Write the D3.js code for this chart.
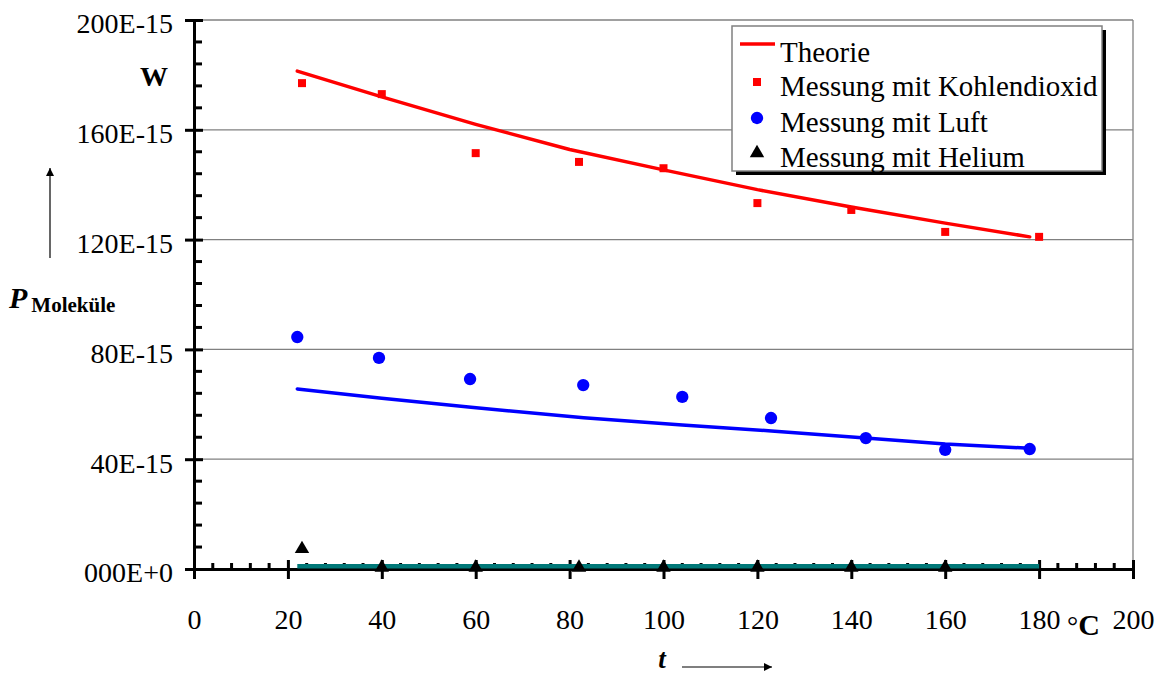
<!DOCTYPE html>
<html>
<head>
<meta charset="utf-8">
<script src="https://cdn.jsdelivr.net/npm/d3@7"></script>
<style>
  body { margin: 0; background: #fff; }
</style>
</head>
<body>
<div id="chart"></div>
<script>
// data (values in 1E-15 W, temperature in °C)
const theoryT = [22, 40, 60, 80, 100, 120, 140, 160, 178];
const theoryCO2 = [181.4, 172, 162, 152.8, 145.4, 138.2, 131.9, 126, 121];
const theoryAirT = [22, 40, 59, 83, 104, 123, 143, 160, 178];
const theoryAir = [65.6, 62.2, 58.9, 55.1, 52.5, 50.3, 47.7, 45.5, 44];
const theoryHeT = [22, 180];
const theoryHe = [1, 1];

const co2T = [23, 40, 60, 82, 100, 120, 140, 160, 180];
const co2P = [177, 173, 151.5, 148.3, 146, 133.3, 130.8, 122.8, 121];
const airT = [22, 39.4, 58.8, 82.9, 104, 122.9, 143.1, 160, 178];
const airP = [84.5, 76.9, 69.2, 67, 62.7, 55, 47.7, 43.4, 43.7];
const heT = [23, 40, 60, 82, 100, 120, 140, 160];
const heP = [7.3, 0.5, 0.5, 0.5, 0.5, 0.5, 0.5, 0.5];

const yTicks = [0, 40, 80, 120, 160, 200];
const yTickLabels = ['000E+0', '40E-15', '80E-15', '120E-15', '160E-15', '200E-15'];
const xTicks = [0, 20, 40, 60, 80, 100, 120, 140, 160, 180, 200];
const legendLabels = ['Theorie', 'Messung mit Kohlendioxid', 'Messung mit Luft', 'Messung mit Helium'];

const width = 1165;
const height = 678;
const serif = '"Liberation Serif"';
const fs = '28px';

const svg = d3.select('#chart').append('svg')
    .attr('width', width)
    .attr('height', height)
    .style('font-family', serif);

const xScale = d3.scaleLinear().domain([0, 200]).range([194, 1133]);
const yScale = d3.scaleLinear().domain([0, 200]).range([569, 20]);

// grid lines + right border
const grid = svg.append('g');
grid.selectAll('line.h')
    .data(yTicks.filter(d => d > 0))
    .enter().append('line')
    .attr('class', 'h')
    .attr('x1', xScale(0)).attr('x2', xScale(200))
    .attr('y1', d => yScale(d)).attr('y2', d => yScale(d))
    .attr('stroke', '#808080').attr('stroke-width', 1.3);
grid.append('line')
    .attr('x1', xScale(200)).attr('x2', xScale(200))
    .attr('y1', yScale(200)).attr('y2', yScale(0))
    .attr('stroke', '#808080').attr('stroke-width', 1.3);

// y axis
const yAxis = d3.axisLeft(yScale)
    .tickValues(yTicks)
    .tickSize(9)
    .tickFormat((d, i) => yTickLabels[i]);
const gy = svg.append('g')
    .attr('transform', 'translate(' + xScale(0) + ',0)')
    .call(yAxis);
gy.attr('font-family', null).attr('font-size', null);
gy.select('.domain').attr('stroke', '#000').attr('stroke-width', 3);
gy.selectAll('.tick line').attr('x2', -9).attr('x1', 9).attr('stroke-width', 3);
gy.selectAll('.tick text')
    .attr('x', -21)
    .attr('dy', '0.46em')
    .style('font-family', serif)
    .style('font-size', fs);
// minor y ticks
gy.selectAll('.minor')
    .data(d3.range(0, 201, 8).filter(d => d % 40 !== 0))
    .enter().append('line')
    .attr('class', 'minor')
    .attr('x1', 0).attr('x2', 8)
    .attr('y1', d => yScale(d)).attr('y2', d => yScale(d))
    .attr('stroke', '#000').attr('stroke-width', 3);

// x axis
const xAxis = d3.axisBottom(xScale)
    .tickValues(xTicks)
    .tickSize(10)
    .tickFormat(d => d);
const gx = svg.append('g')
    .attr('transform', 'translate(0,' + yScale(0) + ')')
    .call(xAxis);
gx.attr('font-family', null).attr('font-size', null);
gx.select('.domain').attr('stroke', '#000').attr('stroke-width', 3);
gx.selectAll('.tick line').attr('y1', -9).attr('y2', 10).attr('stroke-width', 3);
gx.selectAll('.tick text')
    .attr('y', 40)
    .style('font-family', serif)
    .style('font-size', fs);
gx.selectAll('.minor')
    .data(d3.range(0, 201, 4).filter(d => d % 20 !== 0))
    .enter().append('line')
    .attr('class', 'minor')
    .attr('x1', d => xScale(d)).attr('x2', d => xScale(d))
    .attr('y1', 0).attr('y2', -6)
    .attr('stroke', '#000').attr('stroke-width', 3);

// theory lines
const line = d3.line()
    .x(d => xScale(d[0]))
    .y(d => yScale(d[1]));

svg.append('path')
    .datum(d3.zip(theoryHeT, theoryHe))
    .attr('fill', 'none')
    .attr('stroke', '#007878')
    .attr('stroke-width', 4.5)
    .attr('d', line);

svg.append('path')
    .datum(d3.zip(theoryT, theoryCO2))
    .attr('fill', 'none')
    .attr('stroke', '#ff0000')
    .attr('stroke-width', 3.5)
    .attr('stroke-linecap', 'round')
    .attr('stroke-linejoin', 'round')
    .attr('d', line);

svg.append('path')
    .datum(d3.zip(theoryAirT, theoryAir))
    .attr('fill', 'none')
    .attr('stroke', '#0000ff')
    .attr('stroke-width', 3.5)
    .attr('stroke-linecap', 'round')
    .attr('stroke-linejoin', 'round')
    .attr('d', line);

// measurements
const square = d3.symbol().type(d3.symbolSquare).size(64);
const circle = d3.symbol().type(d3.symbolCircle).size(120);
const triangle = d3.symbol().type(d3.symbolTriangle).size(90);

svg.selectAll('.co2')
    .data(d3.zip(co2T, co2P))
    .enter().append('path')
    .attr('class', 'co2')
    .attr('d', square)
    .attr('fill', '#ff0000')
    .attr('transform', d => 'translate(' + xScale(d[0]) + ',' + yScale(d[1]) + ')');

svg.selectAll('.air')
    .data(d3.zip(airT, airP))
    .enter().append('path')
    .attr('class', 'air')
    .attr('d', circle)
    .attr('fill', '#0000ff')
    .attr('transform', d => 'translate(' + xScale(d[0]) + ',' + yScale(d[1]) + ')');

svg.selectAll('.he')
    .data(d3.zip(heT, heP))
    .enter().append('path')
    .attr('class', 'he')
    .attr('d', triangle)
    .attr('fill', '#000')
    .attr('transform', d => 'translate(' + xScale(d[0]) + ',' + yScale(d[1]) + ')');

// legend
const lg = svg.append('g').attr('transform', 'translate(732,26)');
lg.append('rect')
    .attr('x', 4).attr('y', 4)
    .attr('width', 370).attr('height', 145)
    .attr('fill', '#000');
lg.append('rect')
    .attr('width', 370).attr('height', 145)
    .attr('fill', '#fff')
    .attr('stroke', '#808080')
    .attr('stroke-width', 1.5);
const rows = [18, 56, 92, 127];
lg.append('line')
    .attr('x1', 8).attr('x2', 43)
    .attr('y1', rows[0]).attr('y2', rows[0])
    .attr('stroke', '#ff0000').attr('stroke-width', 3.5);
lg.append('path').attr('d', square).attr('fill', '#ff0000')
    .attr('transform', 'translate(25,' + rows[1] + ')');
lg.append('path').attr('d', circle).attr('fill', '#0000ff')
    .attr('transform', 'translate(25,' + rows[2] + ')');
lg.append('path').attr('d', triangle).attr('fill', '#000')
    .attr('transform', 'translate(25,' + rows[3] + ')');
lg.selectAll('text.lab')
    .data(legendLabels)
    .enter().append('text')
    .attr('class', 'lab')
    .attr('x', 48)
    .attr('y', (d, i) => [36, 70, 106, 141][i])
    .style('font-family', serif)
    .style('font-size', '29px')
    .text(d => d);

// units and axis titles
svg.append('text')
    .attr('x', 154).attr('y', 86)
    .attr('text-anchor', 'middle')
    .style('font-family', serif)
    .style('font-size', fs)
    .style('font-weight', 'bold')
    .text('W');

const cLabel = svg.append('text')
    .attr('x', 1067).attr('y', 635)
    .style('font-family', serif);
cLabel.append('tspan').style('font-size', fs).text('°');
cLabel.append('tspan').style('font-size', '30px').style('font-weight', 'bold').text('C');

const pLabel = svg.append('text')
    .attr('x', 9).attr('y', 308)
    .style('font-family', serif);
pLabel.append('tspan')
    .style('font-size', '30px')
    .style('font-weight', 'bold')
    .style('font-style', 'italic')
    .text('P');
pLabel.append('tspan')
    .attr('dx', 4).attr('dy', 4)
    .style('font-size', '21px')
    .style('font-weight', 'bold')
    .text('Moleküle');

svg.append('text')
    .attr('x', 662).attr('y', 668)
    .attr('text-anchor', 'middle')
    .style('font-family', serif)
    .style('font-size', '27px')
    .style('font-weight', 'bold')
    .style('font-style', 'italic')
    .text('t');

// arrows
const defs = svg.append('defs');
defs.append('marker')
    .attr('id', 'arrow')
    .attr('viewBox', '0 0 10 10')
    .attr('refX', 10).attr('refY', 5)
    .attr('markerWidth', 17).attr('markerHeight', 8)
    .attr('markerUnits', 'userSpaceOnUse')
    .attr('orient', 'auto')
    .append('path')
    .attr('d', 'M0,0 L10,5 L0,10 Z')
    .attr('fill', '#000');

svg.append('line')
    .attr('x1', 682).attr('x2', 772)
    .attr('y1', 667).attr('y2', 667)
    .attr('stroke', '#000').attr('stroke-width', 1.2)
    .attr('marker-end', 'url(#arrow)');
svg.append('line')
    .attr('x1', 50).attr('x2', 50)
    .attr('y1', 258).attr('y2', 168)
    .attr('stroke', '#000').attr('stroke-width', 1.2)
    .attr('marker-end', 'url(#arrow)');
</script>
</body>
</html>
